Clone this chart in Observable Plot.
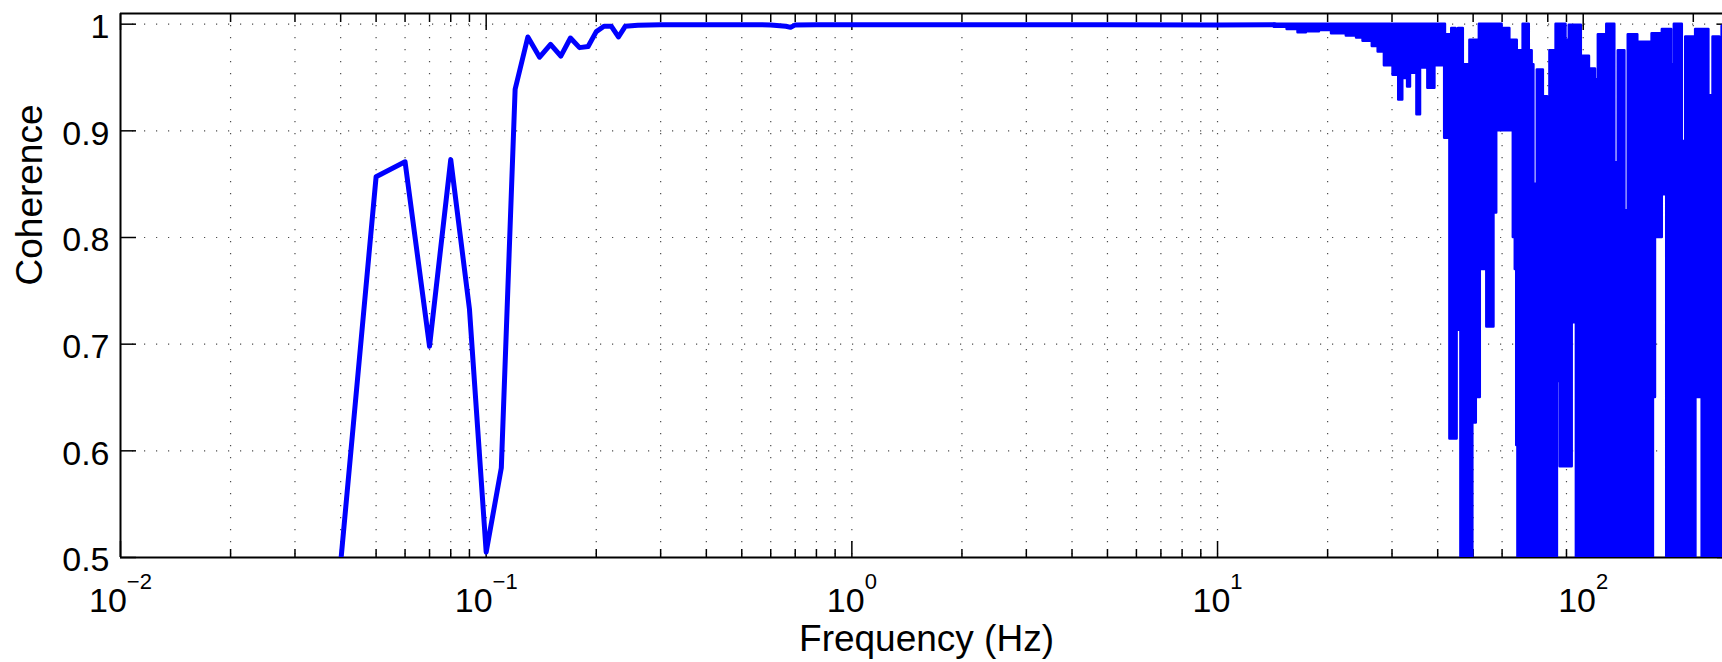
<!DOCTYPE html>
<html><head><meta charset="utf-8">
<script src="https://cdn.jsdelivr.net/npm/d3@7"></script>
<script src="https://cdn.jsdelivr.net/npm/@observablehq/plot@0.6"></script>
<style>
html,body{margin:0;padding:0;background:#fff;overflow:hidden;}
#chart{width:1722px;height:662px;overflow:hidden;}
</style></head><body><div id="chart"></div>
<script>
// ---- data ----
const lowFreq = [0.03, 0.04, 0.05, 0.06, 0.07, 0.08, 0.09, 0.10, 0.11, 0.12, 0.13, 0.14, 0.15, 0.16, 0.17, 0.18, 0.19, 0.20, 0.21, 0.22, 0.23, 0.24, 0.26, 0.3, 0.4, 0.5, 0.6, 0.66, 0.68, 0.7, 0.8, 1, 2, 5, 10, 14.3];
const lowCoh  = [0.30, 0.495, 0.857, 0.871, 0.698, 0.873, 0.733, 0.505, 0.584, 0.939, 0.988, 0.969, 0.981, 0.970, 0.987, 0.978, 0.979, 0.993, 0.998, 0.998, 0.988, 0.998, 0.999, 0.9995, 0.9995, 0.9995, 0.9993, 0.998, 0.997, 0.9993, 0.9995, 0.9995, 0.9995, 0.9995, 0.9993, 0.9995];

// dense high-frequency part: upper / lower envelope of the oscillating trace
const envFreq = [14.3, 15.5, 16.6, 17.5, 19.0, 20.5, 22.5, 24.0, 25.0, 26.5, 27.5, 28.6, 30.2, 31.3, 32.1, 33.1, 33.7, 35.1, 35.9, 37.6, 39.3, 41.8, 42.0, 43.2, 43.7, 44.9, 45.2, 45.6, 46.3, 47.0, 49.0, 49.9, 51.0, 52.0, 52.3, 54.5, 57.0, 58.0, 60.0, 63.0, 64.4, 65.2, 65.8, 66.0, 66.3, 68.5, 71.2, 72.5, 73.3, 74.9, 77.8, 79.9, 81.1, 84.3, 85.0, 86.5, 89.7, 91.6, 93.3, 94.8, 95.8, 98.8, 104, 108, 110, 116, 122.0, 124.7, 130.0, 132.8, 139.6, 141.0, 141.3, 154.3, 155.6, 157.6, 159.2, 164.5, 164.6, 169.2, 174.5, 177.5, 186.6, 190.7, 203.0, 203.3, 205.5, 211.5, 220.6, 226.5, 236.1, 239.8, 256];
const envHi = [1.0, 1.0, 1.0, 1.0, 1.0, 1.0, 1.0, 1.0, 1.0, 1.0, 1.0, 1.0, 1.0, 1.0, 1.0, 1.0, 1.0, 1.0, 1.0, 1.0, 1.0, 1.0, 0.99, 0.99, 0.996, 0.98, 0.98, 0.996, 0.996, 0.962, 0.985, 0.985, 0.985, 1.0, 1.0, 1.0, 1.0, 1.0, 0.996, 0.985, 0.985, 0.985, 0.985, 0.975, 0.975, 1.0, 0.975, 0.962, 0.85, 0.957, 0.932, 0.88, 0.975, 1.0, 1.0, 1.0, 0.985, 0.999, 0.999, 0.999, 0.999, 0.97, 0.958, 0.948, 0.99, 1.0, 0.87, 0.975, 0.825, 0.99, 0.99, 0.983, 0.983, 0.991, 0.991, 0.991, 0.991, 0.991, 0.995, 0.995, 0.962, 1.0, 0.89, 0.988, 0.995, 0.995, 0.995, 0.995, 0.933, 0.988, 0.917, 0.998, 0.998];
const envLo = [0.997, 0.995, 0.992, 0.993, 0.994, 0.991, 0.989, 0.987, 0.984, 0.979, 0.974, 0.961, 0.952, 0.929, 0.949, 0.941, 0.954, 0.915, 0.959, 0.940, 0.961, 0.893, 0.893, 0.611, 0.611, 0.611, 0.713, 0.713, 0.40, 0.40, 0.40, 0.626, 0.65, 0.65, 0.77, 0.716, 0.823, 0.90, 0.90, 0.90, 0.80, 0.77, 0.605, 0.605, 0.40, 0.40, 0.40, 0.40, 0.40, 0.40, 0.40, 0.40, 0.40, 0.40, 0.665, 0.585, 0.585, 0.585, 0.72, 0.83, 0.40, 0.40, 0.40, 0.40, 0.40, 0.40, 0.40, 0.40, 0.40, 0.40, 0.605, 0.605, 0.40, 0.40, 0.65, 0.82, 0.80, 0.84, 0.84, 0.40, 0.40, 0.40, 0.40, 0.40, 0.40, 0.78, 0.65, 0.40, 0.40, 0.40, 0.40, 0.40, 0.40];

const xMajorTicks = [0.01, 0.1, 1, 10, 100];
const xMinorTicks = [0.02, 0.03, 0.04, 0.05, 0.06, 0.07, 0.08, 0.09, 0.2, 0.3, 0.4, 0.5, 0.6, 0.7, 0.8, 0.9, 2, 3, 4, 5, 6, 7, 8, 9, 20, 30, 40, 50, 60, 70, 80, 90, 200];
const yTicks = [0.5, 0.6, 0.7, 0.8, 0.9, 1];
const xLabel = "Frequency (Hz)";
const yLabel = "Coherence";

// ---- tables for the marks ----
const lowData = lowFreq.map((f, i) => ({f, c: lowCoh[i]}));
const envData = envFreq.map((f, i) => ({f, hi: envHi[i], lo: envLo[i]}));
const xGrid = [...xMinorTicks, ...xMajorTicks.slice(1)];
const yGrid = yTicks.slice(1);

const blue = "#0000ff";
const font = "'Liberation Sans', Arial, Helvetica, sans-serif";
const gridStyle = {stroke: "#000", strokeOpacity: 0.7, strokeWidth: 1.2, strokeDasharray: "1.2,10.8"};
const noText = () => "";

const chart = Plot.plot({
  width: 1722, height: 662,
  marginLeft: 120, marginRight: -10, marginTop: 13, marginBottom: 105,
  style: {fontFamily: font, background: "#fff", color: "#000"},
  x: {type: "log", domain: [0.01, 256]},
  y: {domain: [0.5, 1.01]},
  marks: [
    Plot.ruleX(xGrid, gridStyle),
    Plot.ruleY(yGrid, gridStyle),
    Plot.axisX({anchor: "bottom", ticks: xMajorTicks, tickSize: -16, strokeWidth: 1.5, tickFormat: noText, label: null}),
    Plot.axisX({anchor: "bottom", ticks: xMinorTicks, tickSize: -8, strokeWidth: 1.5, tickFormat: noText, label: null}),
    Plot.axisX({anchor: "top", ticks: xMajorTicks, tickSize: -16, strokeWidth: 1.5, tickFormat: noText, label: null}),
    Plot.axisX({anchor: "top", ticks: xMinorTicks, tickSize: -8, strokeWidth: 1.5, tickFormat: noText, label: null}),
    Plot.axisY({anchor: "left", ticks: yTicks, tickSize: -16, strokeWidth: 1.5, tickFormat: noText, label: null}),
    Plot.axisY({anchor: "right", ticks: yTicks, tickSize: -16, strokeWidth: 1.5, tickFormat: noText, label: null}),
    Plot.ruleY([0.5, 1.01], {stroke: "#000", strokeWidth: 2}),
    Plot.ruleX([0.01], {stroke: "#000", strokeWidth: 2}),
    Plot.axisY({anchor: "left", ticks: yTicks, tickSize: 0, tickPadding: 11, dy: 3, fontSize: 34,
      tickFormat: d => d === 1 ? "1" : d.toFixed(1), label: null}),
    Plot.axisX({anchor: "bottom", ticks: xMajorTicks, tickSize: 0, tickPadding: 30, fontSize: 34,
      tickFormat: d => "10^" + Math.round(Math.log10(d)), label: null}),
    Plot.text([xLabel], {frameAnchor: "bottom", lineAnchor: "top", dy: 67, fontSize: 37, fill: "#000"}),
    Plot.text([yLabel], {frameAnchor: "left", rotate: -90, lineAnchor: "top", dx: -105, fontSize: 37, fill: "#000"}),
    Plot.areaY(envData, {x: "f", y1: "lo", y2: "hi", curve: "step-after", fill: blue, stroke: blue, strokeWidth: 2.5, strokeLinejoin: "round", clip: true}),
    Plot.line(lowData, {x: "f", y: "c", stroke: blue, strokeWidth: 5, strokeLinejoin: "round", strokeLinecap: "round", clip: true})
  ]
});

// exponent formatting of the decade labels (10^k)
d3.select(chart).selectAll("text").filter(function () { return this.textContent.includes("^"); })
  .each(function () {
    const s = d3.select(this);
    const [b, e] = s.text().split("^");
    s.text(null);
    s.append("tspan").text(b);
    s.append("tspan").attr("font-size", 22).attr("dy", -23).text(e.replace("-", "\u2212"));
  });

document.getElementById("chart").appendChild(chart);
</script>
</body></html>
